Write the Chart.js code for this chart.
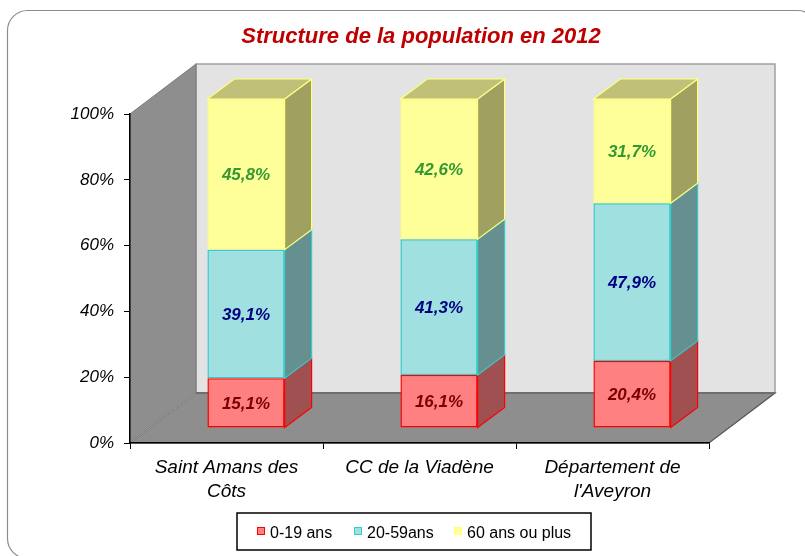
<!DOCTYPE html>
<html><head><meta charset="utf-8">
<script src="https://cdn.jsdelivr.net/npm/chart.js@4.4.0/dist/chart.umd.min.js"></script>
<style>html,body{margin:0;padding:0;background:#fff}canvas{display:block}</style>
</head><body>
<canvas id="c" width="805" height="556"></canvas>
<script>
// ---- data ----
const categories = [["Saint Amans des", "Côts"], "CC de la Viadène", ["Département de", "l'Aveyron"]];
const seriesNames = ["0-19 ans", "20-59ans", "60 ans ou plus"];
const young = [15.1, 16.1, 20.4];
const adults = [39.1, 41.3, 47.9];
const seniors = [45.8, 42.6, 31.7];
const yTicks = [0, 20, 40, 60, 80, 100];
const chartTitle = "Structure de la population en 2012";

// ---- style ----
const FONT = '"Liberation Sans", Arial, sans-serif';
const fronts = ['#FF8080', '#A0E0E0', '#FFFF99'];
const borders = ['#FF0000', '#33CCCC', '#FFFF80'];
const sides = ['#A05050', '#669090', '#A0A060'];
const tops = ['#C06060', '#80B0B0', '#C0C078'];
const labelColors = ['#7A0000', '#000080', '#339933'];
const WALL = {dx: 66, dy: -50};
const BAR = {dx: 27, dy: -20};
const SHIFT = {dx: (WALL.dx - BAR.dx) / 2, dy: (WALL.dy - BAR.dy) / 2};

Chart.defaults.font.family = FONT;
Chart.defaults.color = '#000';

function fmt(v) { return v.toFixed(1).replace('.', ',') + '%'; }

const threeD = {
  id: 'threeD',
  beforeDraw(chart) {
    const ctx = chart.ctx;
    const {left: L, right: R, top: T, bottom: B} = chart.chartArea;
    ctx.save();
    // outer frame
    ctx.fillStyle = '#fff';
    ctx.fillRect(0, 0, chart.width, chart.height);
    ctx.beginPath();
    ctx.roundRect(7.5, 10.5, 810, 548, 20);
    ctx.strokeStyle = '#8c8c8c';
    ctx.lineWidth = 1.2;
    ctx.stroke();
    // title
    ctx.font = 'italic bold 22px ' + FONT;
    ctx.fillStyle = '#C00000';
    ctx.textAlign = 'center';
    ctx.textBaseline = 'alphabetic';
    ctx.fillText(chartTitle, 421, 43);
    // back wall
    ctx.fillStyle = '#E3E3E3';
    ctx.fillRect(L + WALL.dx, T + WALL.dy, R - L, B - T);
    ctx.strokeStyle = '#A0A0A0';
    ctx.lineWidth = 1.5;
    ctx.strokeRect(L + WALL.dx, T + WALL.dy, R - L, B - T);
    // side wall
    ctx.beginPath();
    ctx.moveTo(L, T); ctx.lineTo(L + WALL.dx, T + WALL.dy);
    ctx.lineTo(L + WALL.dx, B + WALL.dy); ctx.lineTo(L, B); ctx.closePath();
    ctx.fillStyle = '#8E8E8E'; ctx.fill();
    ctx.strokeStyle = '#7a7a7a'; ctx.lineWidth = 1; ctx.stroke();
    // floor
    ctx.beginPath();
    ctx.moveTo(L, B); ctx.lineTo(L + WALL.dx, B + WALL.dy);
    ctx.lineTo(R + WALL.dx, B + WALL.dy); ctx.lineTo(R, B); ctx.closePath();
    ctx.fillStyle = '#8E8E8E'; ctx.fill();
    ctx.strokeStyle = '#555'; ctx.lineWidth = 1.2; ctx.stroke();
    // back floor edge
    ctx.beginPath();
    ctx.moveTo(L + WALL.dx, B + WALL.dy); ctx.lineTo(R + WALL.dx, B + WALL.dy);
    ctx.strokeStyle = '#6e6e6e'; ctx.lineWidth = 2; ctx.stroke();
    // corner diagonal
    ctx.beginPath();
    ctx.moveTo(L, B); ctx.lineTo(L + WALL.dx, B + WALL.dy);
    ctx.strokeStyle = '#A8A8A8'; ctx.lineWidth = 1; ctx.stroke();
    ctx.restore();
  },
  beforeDatasetsDraw(chart) {
    chart.ctx.save();
    chart.ctx.translate(SHIFT.dx, SHIFT.dy);
  },
  afterDatasetsDraw(chart) {
    const ctx = chart.ctx;
    const n = chart.data.datasets.length;
    chart.data.datasets.forEach((ds, di) => {
      const meta = chart.getDatasetMeta(di);
      meta.data.forEach((el) => {
        const p = el.getProps(['x', 'y', 'base', 'width'], true);
        const l = p.x - p.width / 2, r = p.x + p.width / 2;
        const t = Math.min(p.y, p.base), b = Math.max(p.y, p.base);
        ctx.beginPath();
        ctx.moveTo(r, t); ctx.lineTo(r + BAR.dx, t + BAR.dy);
        ctx.lineTo(r + BAR.dx, b + BAR.dy); ctx.lineTo(r, b); ctx.closePath();
        ctx.fillStyle = sides[di]; ctx.fill();
        ctx.strokeStyle = borders[di]; ctx.lineWidth = 1.2; ctx.stroke();
        if (di === n - 1) {
          ctx.beginPath();
          ctx.moveTo(l, t); ctx.lineTo(l + BAR.dx, t + BAR.dy);
          ctx.lineTo(r + BAR.dx, t + BAR.dy); ctx.lineTo(r, t); ctx.closePath();
          ctx.fillStyle = tops[di]; ctx.fill();
          ctx.strokeStyle = borders[di]; ctx.stroke();
        }
      });
    });
    // value labels
    ctx.font = 'italic bold 17px ' + FONT;
    ctx.textAlign = 'center';
    ctx.textBaseline = 'middle';
    chart.data.datasets.forEach((ds, di) => {
      const meta = chart.getDatasetMeta(di);
      meta.data.forEach((el, i) => {
        const p = el.getProps(['x', 'y', 'base'], true);
        ctx.fillStyle = labelColors[di];
        ctx.fillText(fmt(ds.data[i]), p.x, (p.y + p.base) / 2 + 1);
      });
    });
    ctx.restore();
  },
  afterDraw(chart) {
    const ctx = chart.ctx;
    ctx.save();
    ctx.fillStyle = '#fff';
    ctx.fillRect(237, 513, 354, 37);
    ctx.strokeStyle = '#000';
    ctx.lineWidth = 1.5;
    ctx.strokeRect(237, 513, 354, 37);
    const xs = [257, 354, 454];
    ctx.font = '16px ' + FONT;
    ctx.textBaseline = 'alphabetic';
    ctx.textAlign = 'left';
    seriesNames.forEach((name, i) => {
      ctx.fillStyle = fronts[i];
      ctx.fillRect(xs[i], 527, 8, 8);
      ctx.strokeStyle = borders[i];
      ctx.lineWidth = 1;
      ctx.strokeRect(xs[i] + 0.5, 527.5, 7, 7);
      ctx.fillStyle = '#000';
      ctx.fillText(name, xs[i] + 13, 538);
    });
    ctx.restore();
  }
};

const seriesData = [young, adults, seniors];
new Chart(document.getElementById('c'), {
  type: 'bar',
  data: {
    labels: categories,
    datasets: seriesNames.map((name, i) => ({
      label: name,
      data: seriesData[i],
      backgroundColor: fronts[i],
      borderColor: borders[i],
      borderWidth: 1.5,
      borderSkipped: false,
      clip: false
    }))
  },
  options: {
    responsive: false,
    animation: false,
    layout: {padding: {left: 0, top: 114, right: 96, bottom: 0}},
    barPercentage: 0.4,
    categoryPercentage: 1,
    plugins: {legend: {display: false}, title: {display: false}, tooltip: {enabled: false}},
    scales: {
      x: {
        stacked: true,
        afterFit(s) { s.height = 113; },
        grid: {drawOnChartArea: false, drawTicks: true, tickLength: 6, color: '#000', offset: true},
        border: {display: true, color: '#000', width: 1.5},
        ticks: {font: {size: 19, style: 'italic', lineHeight: 1.3}, color: '#000', padding: 6, maxRotation: 0, autoSkip: false}
      },
      y: {
        stacked: true,
        min: 0, max: 100,
        afterFit(s) { s.width = 130; },
        afterBuildTicks(s) { s.ticks = yTicks.map(v => ({value: v})); },
        grid: {drawOnChartArea: false, drawTicks: true, tickLength: 6, color: '#000'},
        border: {display: true, color: '#000', width: 1.5},
        ticks: {font: {size: 17, style: 'italic'}, color: '#000', padding: 10, callback: v => v + '%'}
      }
    }
  },
  plugins: [threeD]
});
</script>
</body></html>
